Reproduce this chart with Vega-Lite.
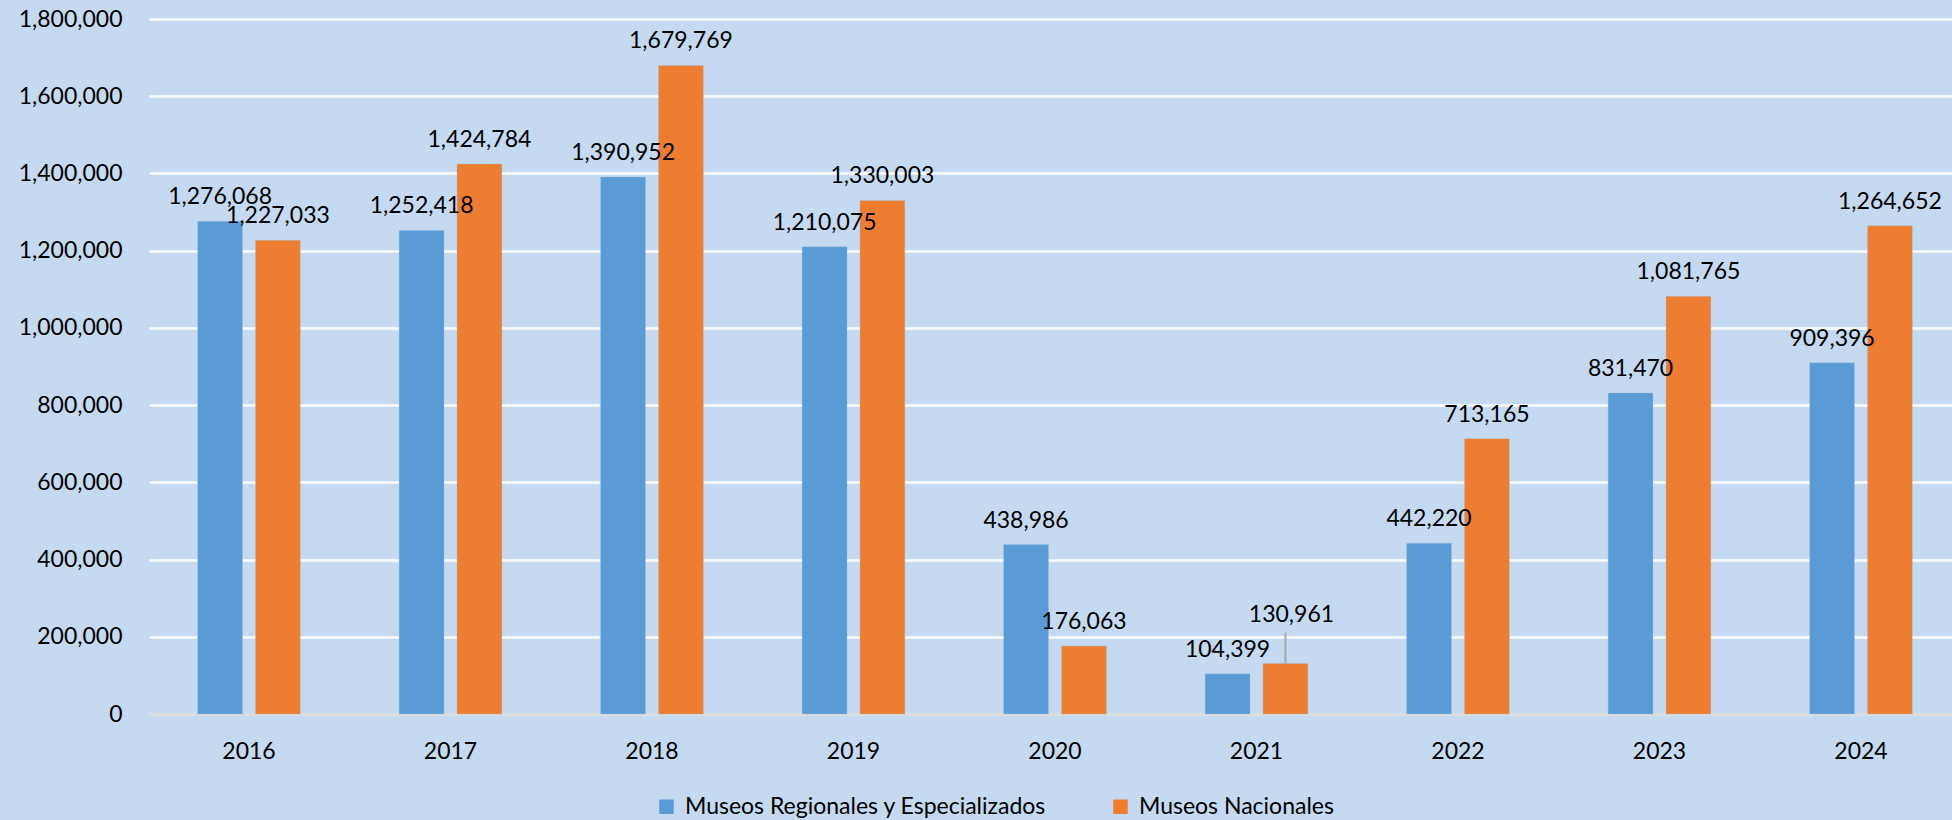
{
  "$schema": "https://vega.github.io/schema/vega-lite/v6.json",
  "width": 1803,
  "height": 695,
  "autosize": {"type": "none"},
  "padding": {"left": 149, "top": 19, "right": 0, "bottom": 106},
  "background": "#C5D9F0",
  "config": {"view": {"stroke": null}, "font": "Lato"},
  "data": {
    "values": [
      {"year": "2016", "series": "Museos Regionales y Especializados", "value": 1276068},
      {"year": "2016", "series": "Museos Nacionales", "value": 1227033},
      {"year": "2017", "series": "Museos Regionales y Especializados", "value": 1252418},
      {"year": "2017", "series": "Museos Nacionales", "value": 1424784},
      {"year": "2018", "series": "Museos Regionales y Especializados", "value": 1390952},
      {"year": "2018", "series": "Museos Nacionales", "value": 1679769},
      {"year": "2019", "series": "Museos Regionales y Especializados", "value": 1210075},
      {"year": "2019", "series": "Museos Nacionales", "value": 1330003},
      {"year": "2020", "series": "Museos Regionales y Especializados", "value": 438986},
      {"year": "2020", "series": "Museos Nacionales", "value": 176063},
      {"year": "2021", "series": "Museos Regionales y Especializados", "value": 104399},
      {"year": "2021", "series": "Museos Nacionales", "value": 130961},
      {"year": "2022", "series": "Museos Regionales y Especializados", "value": 442220},
      {"year": "2022", "series": "Museos Nacionales", "value": 713165},
      {"year": "2023", "series": "Museos Regionales y Especializados", "value": 831470},
      {"year": "2023", "series": "Museos Nacionales", "value": 1081765},
      {"year": "2024", "series": "Museos Regionales y Especializados", "value": 909396},
      {"year": "2024", "series": "Museos Nacionales", "value": 1264652}
    ]
  },
  "encoding": {
    "x": {
      "field": "year",
      "type": "ordinal",
      "scale": {"paddingInner": 0.49, "paddingOuter": 0.219, "align": 0.551},
      "axis": {
        "title": null,
        "labelAngle": 0,
        "labelFont": "Lato",
        "labelFontSize": 23,
        "labelColor": "#000000",
        "labelPadding": 26,
        "ticks": false,
        "tickSize": 0,
        "domainColor": "#D9D9D9",
        "domainWidth": 2.5,
        "grid": false
      }
    },
    "xOffset": {
      "field": "series",
      "type": "nominal",
      "sort": ["Museos Regionales y Especializados", "Museos Nacionales"],
      "scale": {"paddingInner": 0.224, "paddingOuter": 0}
    },
    "y": {
      "field": "value",
      "type": "quantitative",
      "scale": {"domain": [0, 1800000], "nice": false},
      "axis": {
        "title": null,
        "values": [0, 200000, 400000, 600000, 800000, 1000000, 1200000, 1400000, 1600000, 1800000],
        "format": ",d",
        "labelFont": "Lato",
        "labelFontSize": 23,
        "labelColor": "#000000",
        "labelPadding": 27,
        "ticks": false,
        "tickSize": 0,
        "domain": false,
        "grid": true,
        "gridColor": "#FFFFFF",
        "gridWidth": 2.5
      }
    }
  },
  "layer": [
    {
      "mark": {"type": "bar", "stroke": "#9DC3E6", "strokeOpacity": 0.35, "strokeWidth": 1},
      "encoding": {
        "color": {
          "field": "series",
          "type": "nominal",
          "sort": ["Museos Regionales y Especializados", "Museos Nacionales"],
          "scale": {
            "domain": ["Museos Regionales y Especializados", "Museos Nacionales"],
            "range": ["#5B9BD5", "#ED7D31"]
          },
          "legend": {
            "title": null,
            "orient": "none",
            "direction": "horizontal",
            "legendX": 506,
            "legendY": 776,
            "padding": 0,
            "symbolType": "square",
            "symbolSize": 210,
            "symbolStrokeWidth": 0,
            "symbolOpacity": 1,
            "labelFont": "Lato",
            "labelFontSize": 23,
            "labelColor": "#000000",
            "labelOffset": 7,
            "labelLimit": 600,
            "columnPadding": 62
          }
        }
      }
    },
    {
      "transform": [{"filter": "!(datum.year == '2021' && datum.series == 'Museos Nacionales')"}],
      "mark": {"type": "text", "baseline": "alphabetic", "align": "center", "dy": -17, "fontSize": 23, "font": "Lato", "color": "#000000"},
      "encoding": {"text": {"field": "value", "type": "quantitative", "format": ",d"}}
    },
    {
      "transform": [{"filter": "datum.year == '2021' && datum.series == 'Museos Nacionales'"}],
      "mark": {"type": "text", "baseline": "alphabetic", "align": "center", "dy": -41, "dx": 6, "fontSize": 23, "font": "Lato", "color": "#000000"},
      "encoding": {"text": {"field": "value", "type": "quantitative", "format": ",d"}}
    },
    {
      "transform": [{"filter": "datum.year == '2021' && datum.series == 'Museos Nacionales'"}],
      "mark": {"type": "rule", "color": "#A6A6A6", "strokeWidth": 2, "y2Offset": -31},
      "encoding": {"y2": {"field": "value"}}
    }
  ]
}
